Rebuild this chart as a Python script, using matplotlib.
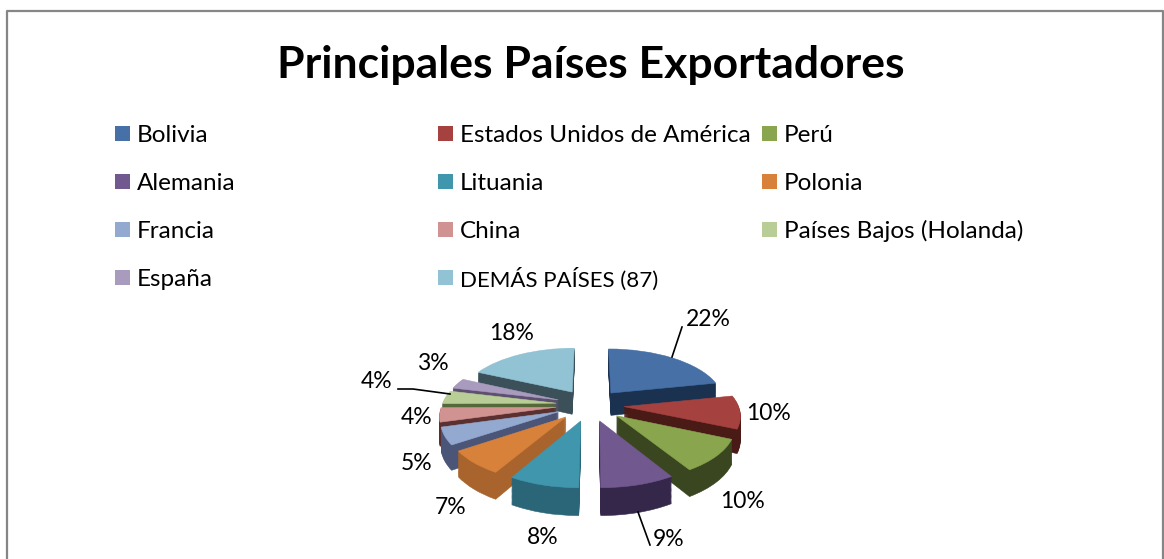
import numpy as np
import matplotlib
matplotlib.use('Agg')
import matplotlib.pyplot as plt
from matplotlib.patches import Rectangle
from matplotlib.transforms import Transform

plt.rcParams['font.family'] = ['Lato', 'DejaVu Sans']

# data
paises = ['Bolivia', 'Estados Unidos de América', 'Perú', 'Alemania', 'Lituania', 'Polonia',
          'Francia', 'China', 'Países Bajos (Holanda)', 'España', 'DEMÁS PAÍSES (87)']
valores = [21.7, 9.8, 9.7, 8.8, 8.3, 7.2, 5.1, 4.2, 3.9, 3.1, 18.1]
etiquetas = ['22%', '10%', '10%', '9%', '8%', '7%', '5%', '4%', '4%', '3%', '18%']
colores = ['#4670a6', '#a5423f', '#89a54e', '#71588f', '#4096ad', '#d8813a',
           '#93a9cf', '#d19392', '#b9cd96', '#a99bbd', '#91c3d5']
lados = ['#1b3150', '#4a1a16', '#3a4620', '#35274a', '#2a6678', '#a8642c',
         '#4a5578', '#5a3030', '#55683a', '#5e5070', '#3c505a']

# where the labels sit, in pixels
pos_etiquetas = [(708, 320), (768, 414), (742, 501), (669, 539), (543, 538), (451, 508),
                 (417, 463), (417, 417), (377, 381), (433, 363), (512, 334)]
col_x = [115, 438, 762]
fila_y = [134, 182, 230, 278]

CX, CY, R = 590, 405, 114
S, C = 53, 0.135   # tilt and perspective of the pie


class Perspectiva(Transform):
    # unit pie -> pixel coords, z pushes the layer down
    input_dims = 2
    output_dims = 2
    is_affine = False

    def __init__(self, z=0):
        super().__init__()
        self.z = z

    def transform_non_affine(self, values):
        v = np.asarray(values)
        w = 1 / (1 + C * v[:, 1])
        return np.column_stack([CX + R * v[:, 0] * w, CY - (S * v[:, 1] - self.z) * w])


fig = plt.figure(figsize=(11.64, 5.59), dpi=100)
ax = fig.add_axes([0, 0, 1, 1])

# back to front order of the slices
fr = np.cumsum(valores) - np.array(valores) / 2
medio = np.radians(90 - 360 * fr / sum(valores))
rango = np.argsort(np.argsort(-np.sin(medio)))


def capa(cols, z, base):
    wedges, _ = ax.pie(valores, explode=[0.3] * len(valores), colors=cols, startangle=90,
                       counterclock=False)
    for i, w in enumerate(wedges):
        w.set_transform(Perspectiva(z) + ax.transData)
        w.set_clip_on(False)
        w.set_edgecolor(cols[i])
        w.set_linewidth(0.4)
        w.set_zorder(base + rango[i] - z / 100)


for z in range(23, 0, -1):
    capa(lados, z, 2)
capa(colores, 0, 20)

ax.set_aspect('auto')
ax.set_xlim(0, 1164)
ax.set_ylim(559, 0)
ax.set_axis_off()

# frame
ax.plot([7, 7, 1163, 1163], [559, 11, 11, 559], color='#868686', lw=1.6, zorder=1)

ax.text(591, 65, 'Principales Países Exportadores', fontsize=32, fontweight='bold',
        ha='center', va='center', color='black')

# legend, row by row
for i, p in enumerate(paises):
    x = col_x[i % 3]
    y = fila_y[i // 3]
    ax.add_patch(Rectangle((x, y - 8), 15, 15, color=colores[i], lw=0))
    ax.text(x + 22, y + 1, p, fontsize=17.5 if i != 10 else 16, va='center', ha='left', color='black')

for e, (x, y) in zip(etiquetas, pos_etiquetas):
    ax.text(x, y, e, fontsize=16.5, ha='center', va='center', color='black', zorder=40)

# leader lines
ax.plot([682, 672], [327, 357], color='black', lw=1.2, zorder=40)
ax.plot([398, 413, 450], [389, 389, 394], color='black', lw=1.2, zorder=40)
ax.plot([638, 650], [512, 545], color='black', lw=1.2, zorder=40)

fig.savefig('out.png', dpi=100)
